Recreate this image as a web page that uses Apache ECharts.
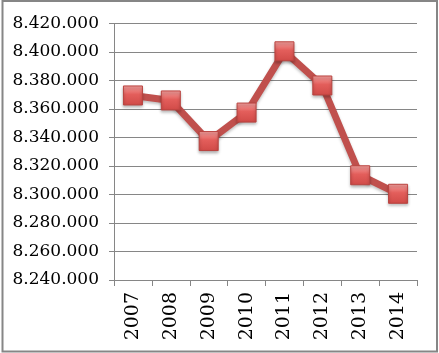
<!DOCTYPE html>
<html>
<head>
<meta charset="utf-8">
<script src="https://cdn.jsdelivr.net/npm/echarts@6/dist/echarts.min.js"></script>
<style>
  html, body { margin: 0; padding: 0; background: #fff; }
  #chart { width: 439px; height: 353px; }
</style>
</head>
<body>
<div id="chart"></div>
<script>
// years on the x axis
const years = ['2007', '2008', '2009', '2010', '2011', '2012', '2013', '2014']
// values
const values = [8369500, 8366000, 8337500, 8357500, 8400500, 8376500, 8313500, 8300500]
// y axis range
const yMin = 8240000
const yMax = 8420000
const yStep = 20000

// 8420000 -> 8.420.000
function fmt (v) {
  return String(Math.round(v)).replace(/\B(?=(\d{3})+(?!\d))/g, '.')
}

const myChart = echarts.init(document.getElementById('chart'))
const option = {
  animation: false,
  backgroundColor: '#fff',
  graphic: [{
    type: 'rect',
    shape: { x: 2.5, y: 1, width: 434.5, height: 350.5 },
    style: { fill: 'none', stroke: '#868686', lineWidth: 2 }
  }],
  grid: {
    left: 114,
    right: 22,
    top: 23.5,
    bottom: 73
  },
  xAxis: {
    type: 'category',
    data: years,
    boundaryGap: true,
    axisLine: { lineStyle: { color: '#868686', width: 1 } },
    axisTick: { show: true, length: 6, alignWithLabel: false, lineStyle: { color: '#868686' } },
    axisLabel: {
      rotate: 90,
      margin: 12,
      color: '#000',
      fontFamily: 'DejaVu Serif',
      fontSize: 19,
      interval: 0
    }
  },
  yAxis: {
    type: 'value',
    min: yMin,
    max: yMax,
    interval: yStep,
    axisLine: { show: true, lineStyle: { color: '#868686', width: 1 } },
    axisTick: { show: true, length: 5, lineStyle: { color: '#868686' } },
    splitLine: { lineStyle: { color: '#868686', width: 1 } },
    axisLabel: {
      margin: 15,
      color: '#000',
      fontFamily: 'DejaVu Serif',
      fontSize: 17,
      formatter: fmt
    }
  },
  series: [{
    type: 'line',
    data: values,
    symbol: 'rect',
    symbolSize: 19,
    lineStyle: {
      color: '#C0504D',
      width: 7,
      shadowColor: 'rgba(0,0,0,0.25)',
      shadowBlur: 3,
      shadowOffsetY: 2
    },
    itemStyle: {
      color: new echarts.graphic.LinearGradient(0, 0, 0, 1, [
        { offset: 0, color: '#F7A3A1' },
        { offset: 0.45, color: '#E35E5B' },
        { offset: 1, color: '#D04A47' }
      ]),
      borderColor: '#B9433F',
      borderWidth: 1,
      shadowColor: 'rgba(0,0,0,0.3)',
      shadowBlur: 3,
      shadowOffsetY: 2
    },
    emphasis: { disabled: true }
  }]
}
myChart.setOption(option, true)
</script>
</body>
</html>
